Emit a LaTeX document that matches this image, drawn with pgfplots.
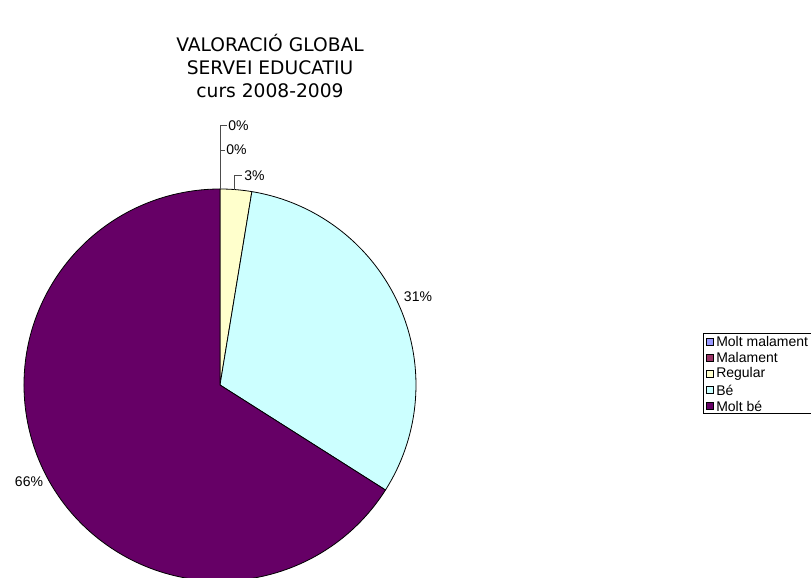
\documentclass[border=0pt]{standalone}
\usepackage{pgfplots}
\pgfplotsset{compat=1.18}
\usepackage{fontspec}
\setmainfont{Liberation Sans}
\newfontfamily\titlefont{DejaVu Sans}
\definecolor{cA}{HTML}{9999FF}
\definecolor{cB}{HTML}{993366}
\definecolor{cC}{HTML}{FFFFCC}
\definecolor{cD}{HTML}{CCFFFF}
\definecolor{cE}{HTML}{660066}
\begin{document}
\begin{tikzpicture}[x=0.75pt,y=0.75pt]
\path[use as bounding box] (0,0) rectangle (811,578);
\begin{axis}[at={(165pt,144.75pt)}, anchor=center, scale only axis,
  width=294pt, height=294pt, xmin=-1, xmax=1, ymin=-1, ymax=1,
  hide axis, clip=false]
\gdef\cum{0}
\pgfplotsforeachungrouped \v/\c in {0/cA, 0/cB, 2.6/cC, 31.4/cD, 66/cE}{
  \pgfmathsetmacro\sa{90-3.6*\cum}
  \pgfmathsetmacro\newcum{\cum+\v}
  \xdef\cum{\newcum}
  \pgfmathsetmacro\ea{90-3.6*\cum}
  \edef\temp{\noexpand\filldraw[fill=\c, draw=black, line width=0.6pt, line join=round]
    (axis cs:0,0) -- ++(\sa:147pt) arc[start angle=\sa, end angle=\ea, radius=147pt] -- cycle;}
  \temp
}
\end{axis}
% title
\node[align=center, font=\titlefont\fontsize{14}{17.3}\selectfont, anchor=center] at (270,512)
  {VALORACIÓ GLOBAL\\SERVEI EDUCATIU\\curs 2008-2009};
% leader lines and labels
\draw[line width=0.6pt, black!70] (220,389) -- (220,453) -- (227,453);
\draw[line width=0.6pt, black!70] (220,428) -- (225,428);
\draw[line width=0.6pt, black!70] (234,388) -- (234,403) -- (242,403);
\begin{scope}[font=\fontsize{10.5}{12}\selectfont]
\node[anchor=west, inner sep=0pt] at (228,452) {0\%};
\node[anchor=west, inner sep=0pt] at (226,428) {0\%};
\node[anchor=west, inner sep=0pt] at (244,402) {3\%};
\node[anchor=center, inner sep=0pt] at (418,281) {31\%};
\node[anchor=center, inner sep=0pt] at (29,96) {66\%};
\end{scope}
% legend
\draw[line width=0.6pt] (703,245) rectangle (830,165);
\begin{scope}[font=\fontsize{10.5}{11}\selectfont]
\foreach \yy/\c/\t in {236/cA/Molt malament, 220/cB/Malament, 204/cC/Regular, 188/cD/Bé, 172/cE/Molt bé}{
  \filldraw[fill=\c, draw=black, line width=0.5pt] (706,\yy-3.5) rectangle (713,\yy+3.5);
  \node[anchor=west, inner sep=0pt] at (716,\yy) {\t};
}
\end{scope}
\end{tikzpicture}
\end{document}
